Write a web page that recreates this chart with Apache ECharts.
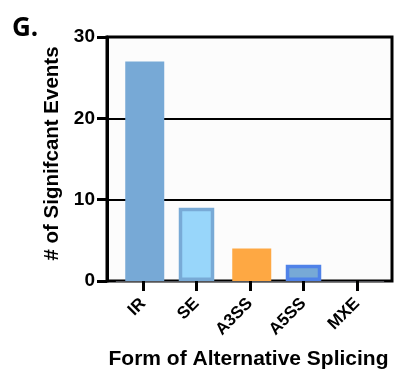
<!DOCTYPE html>
<html>
<head>
<meta charset="utf-8">
<script src="https://cdn.jsdelivr.net/npm/echarts@6/dist/echarts.min.js"></script>
<style>
  html, body { margin: 0; padding: 0; background: #ffffff; }
  #chart { width: 396px; height: 376px; }
</style>
</head>
<body>
<div id="chart"></div>
<script>
// Splicing event counts per form of alternative splicing
const categories = ['IR', 'SE', 'A3SS', 'A5SS', 'MXE'];
const events = [27, 9, 4, 2, 0];
const yTicks = [0, 10, 20, 30];
const hasOutline = [false, true, false, true, false];

// Per-bar colours
const fillColors = ['#77a9d6', '#98d6fa', '#fea843', '#77a9d6', '#77a9d6'];
const outlineColors = ['none', '#78aad6', 'none', '#4f82e8', 'none'];

const FONT = '"Liberation Sans", Arial, Helvetica, sans-serif';
const yMin = yTicks[0];
const yMax = yTicks[yTicks.length - 1];
const yStep = yTicks[1] - yTicks[0];

const plainData = events.map((v, i) => hasOutline[i] ? '-' :
  { value: v, itemStyle: { color: fillColors[i] } });
const outlinedData = events.map((v, i) => !hasOutline[i] ? '-' :
  { value: v, itemStyle: { color: fillColors[i], borderColor: outlineColors[i], borderWidth: 3.5 } });

const chart = echarts.init(document.getElementById('chart'));
chart.setOption({
  animation: false,
  grid: [
    // framed plotting box with the value axis and its grid lines
    { left: 107, right: 4, top: 37, bottom: 95, show: true,
      borderColor: '#000', borderWidth: 3, backgroundColor: '#fcfcfc' },
    // inner band that holds the category slots
    { left: 116.25, right: 12.25, top: 37, bottom: 95 }
  ],
  xAxis: [
    { type: 'value', gridIndex: 0, min: 0, max: 1, show: false },
    { type: 'category', gridIndex: 1, data: categories,
      axisTick: { show: true, alignWithLabel: true, length: 10,
                  lineStyle: { color: '#000', width: 3 } },
      axisLabel: { rotate: 45, margin: 20, color: '#000',
                   fontFamily: FONT, fontWeight: 'bold', fontSize: 17 } }
  ],
  yAxis: [
    { type: 'value', gridIndex: 0, min: yMin, max: yMax, interval: yStep,
      axisLine: { show: true, lineStyle: { color: '#000', width: 3 } },
      axisTick: { show: true, length: 10, lineStyle: { color: '#000', width: 3 } },
      axisLabel: { margin: 12, color: '#000', fontFamily: FONT,
                   fontWeight: 'bold', fontSize: 19 },
      splitLine: { show: true, lineStyle: { color: '#000', width: 2 } } },
    { type: 'value', gridIndex: 1, min: yMin, max: yMax, show: false }
  ],
  graphic: [
    { type: 'text', x: 12, y: 29,
      style: { text: 'G.', fill: '#000', font: 'bold 26px "Open Sans", sans-serif',
               verticalAlign: 'middle' } },
    { type: 'text', x: 52.5, y: 153.5, rotation: Math.PI / 2,
      style: { text: '# of Signifcant Events', fill: '#000',
               font: 'bold 20.5px ' + FONT, align: 'center', verticalAlign: 'middle' } },
    { type: 'text', x: 248.5, y: 359,
      style: { text: 'Form of Alternative Splicing', fill: '#000',
               font: 'bold 21px ' + FONT, align: 'center', verticalAlign: 'middle' } }
  ],
  series: [
    { type: 'bar', xAxisIndex: 1, yAxisIndex: 1, barWidth: 39, barGap: '-100%',
      data: plainData },
    { type: 'bar', xAxisIndex: 1, yAxisIndex: 1, barWidth: 35.5, barGap: '-100%',
      data: outlinedData }
  ]
});
</script>
</body>
</html>
